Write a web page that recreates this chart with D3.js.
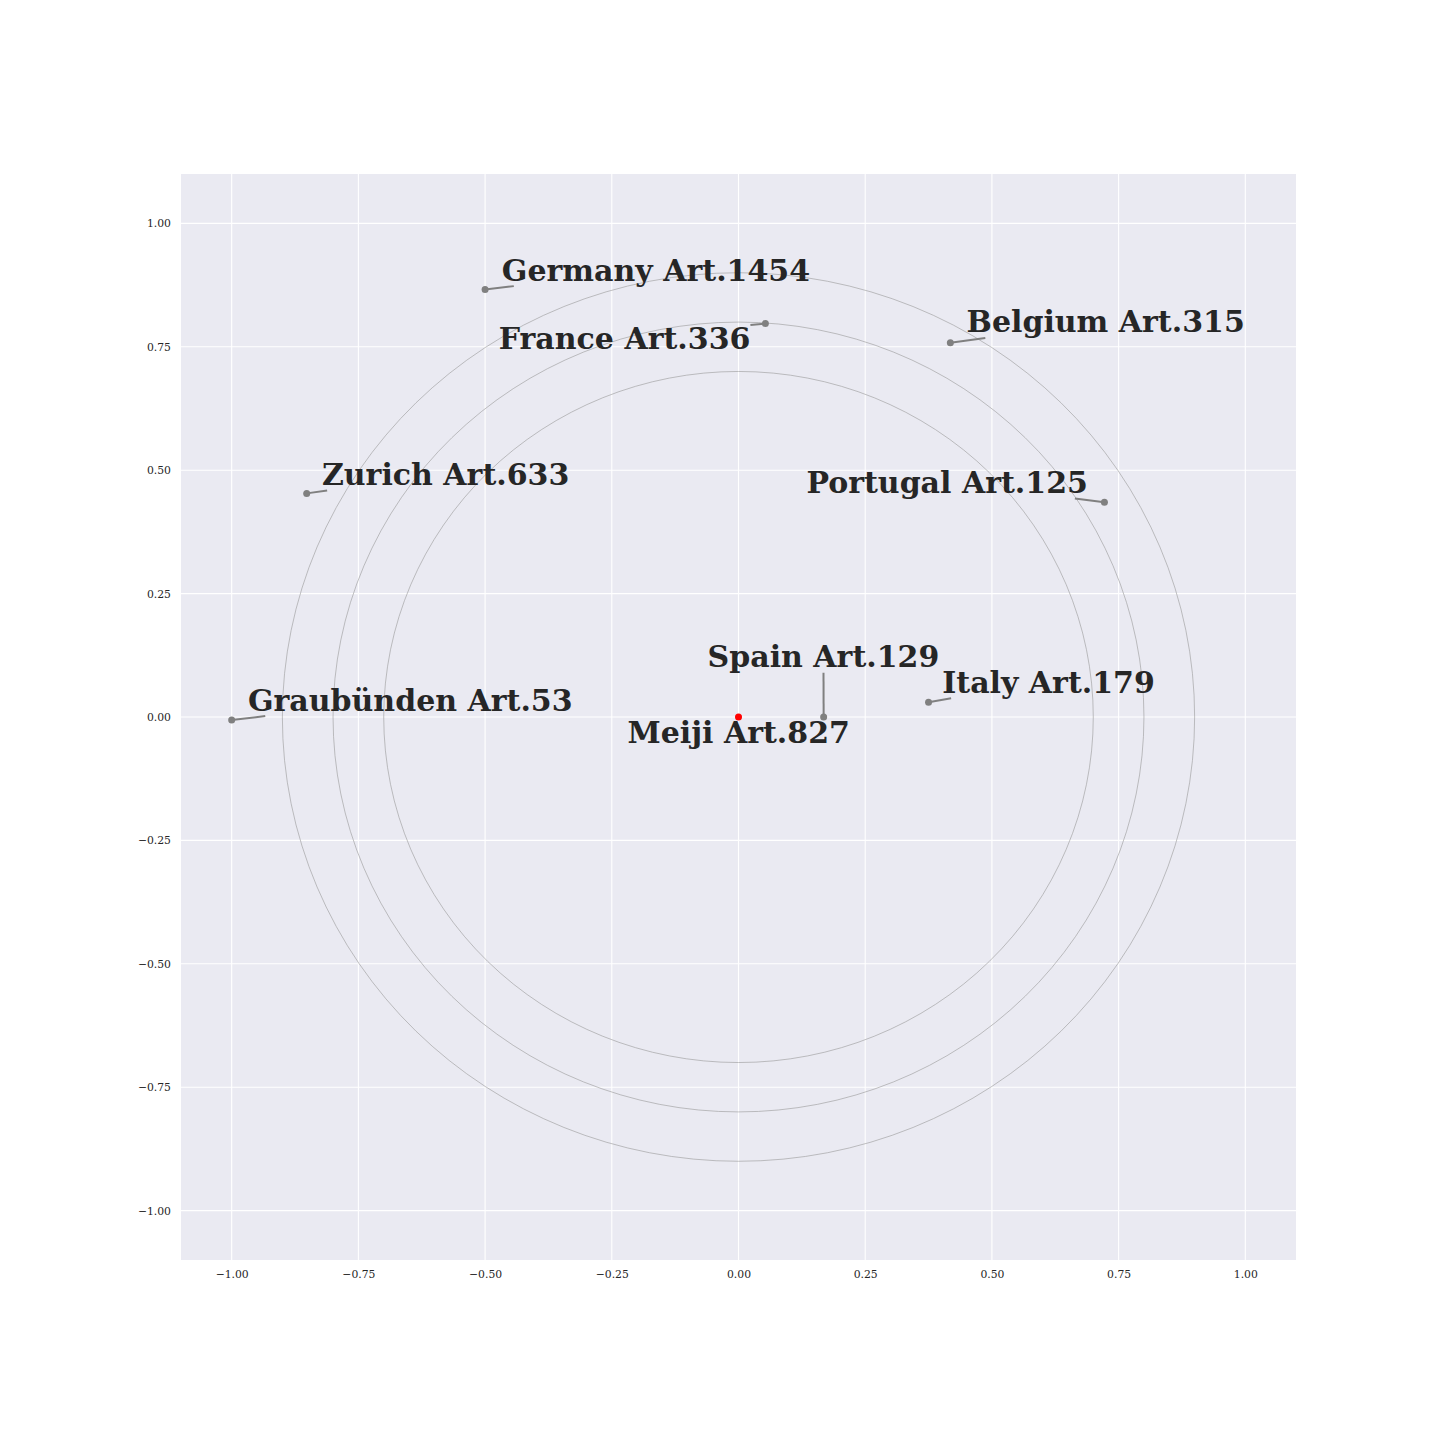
<!DOCTYPE html>
<html><head><meta charset="utf-8">
<script src="https://cdn.jsdelivr.net/npm/d3@7"></script>
<style>body{margin:0;background:#fff}svg{display:block}</style>
</head><body>
<script>
const names = ["Germany Art.1454","France Art.336","Belgium Art.315","Zurich Art.633","Portugal Art.125","Graubünden Art.53","Spain Art.129","Italy Art.179"];
const px = [-0.5, 0.053, 0.418, -0.852, 0.722, -1.0, 0.168, 0.375];
const py = [0.866, 0.797, 0.758, 0.453, 0.435, -0.006, 0.0, 0.030];
// label anchor (left, baseline) in data units
const lx = [-0.467, -0.473, 0.450, -0.822, 0.134, -0.968, -0.061, 0.402];
const ly = [0.884, 0.746, 0.779, 0.470, 0.454, 0.013, 0.101, 0.049];
const centerName = "Meiji Art.827";
const centerLabel = [-0.219, -0.053];
const radii = [0.7, 0.8, 0.9];
const ticks = [-1.0, -0.75, -0.5, -0.25, 0, 0.25, 0.5, 0.75, 1.0];

const W = 1440, H = 1440;
const L = 181, R = 1296, T = 174, B = 1260;
const svg = d3.select("body").append("svg").attr("width", W).attr("height", H);
const x = d3.scaleLinear().domain([-1.1, 1.1]).range([L, R]);
const y = d3.scaleLinear().domain([-1.1, 1.1]).range([B, T]);

svg.append("rect").attr("x", L).attr("y", T).attr("width", R - L).attr("height", B - T).attr("fill", "#EAEAF2");
const fmt = d => d3.format(".2f")(d).replace("-", "\u2212");

const g = svg.append("g");
g.selectAll(".gx").data(ticks).join("line").attr("x1", d => x(d)).attr("x2", d => x(d))
  .attr("y1", T).attr("y2", B).attr("stroke", "#fff").attr("stroke-width", 1.1);
g.selectAll(".gy").data(ticks).join("line").attr("y1", d => y(d)).attr("y2", d => y(d))
  .attr("x1", L).attr("x2", R).attr("stroke", "#fff").attr("stroke-width", 1.1);

const xAxis = d3.axisBottom(x).tickValues(ticks).tickFormat(fmt).tickSize(0).tickPadding(10);
const yAxis = d3.axisLeft(y).tickValues(ticks).tickFormat(fmt).tickSize(0).tickPadding(10);
const ax = svg.append("g").attr("transform", `translate(0,${B})`).call(xAxis);
const ay = svg.append("g").attr("transform", `translate(${L},0)`).call(yAxis);
[ax, ay].forEach(a => {
  a.select(".domain").remove();
  a.selectAll("text").attr("font-family", "DejaVu Serif").attr("font-size", "10.8px").attr("fill", "#262626");
});

// circles
svg.selectAll(".ring").data(radii).join("ellipse")
  .attr("cx", x(0)).attr("cy", y(0))
  .attr("rx", d => x(d) - x(0)).attr("ry", d => y(0) - y(d))
  .attr("fill", "none").attr("stroke", "#999").attr("stroke-width", 0.6);

// labels
const labels = svg.append("g");
const items = names.map((n, i) => ({n, px: px[i], py: py[i], lx: lx[i], ly: ly[i]}));
const lineG = svg.append("g");
items.forEach(d => {
  const t = labels.append("text").attr("x", x(d.lx)).attr("y", y(d.ly))
    .attr("font-family", "DejaVu Serif").attr("font-weight", "bold").attr("font-size", "30px")
    .attr("fill", "#262626").text(d.n);
  const b0 = t.node().getBBox();
  const bb = {x: b0.x, y: b0.y, width: b0.width, height: b0.height - 1.5};
  const cx = bb.x + bb.width / 2, cy = bb.y + bb.height / 2;
  const p0 = [x(d.px), y(d.py)];
  const dx = cx - p0[0], dy = cy - p0[1];
  let tmin = 1;
  const cands = [];
  if (dx !== 0) { cands.push((bb.x - p0[0]) / dx, (bb.x + bb.width - p0[0]) / dx); }
  if (dy !== 0) { cands.push((bb.y - p0[1]) / dy, (bb.y + bb.height - p0[1]) / dy); }
  cands.forEach(tt => {
    if (tt > 0 && tt < tmin) {
      const qx = p0[0] + dx * tt, qy = p0[1] + dy * tt;
      if (qx >= bb.x - 0.01 && qx <= bb.x + bb.width + 0.01 && qy >= bb.y - 0.01 && qy <= bb.y + bb.height + 0.01) tmin = tt;
    }
  });
  lineG.append("line").attr("x1", p0[0]).attr("y1", p0[1])
    .attr("x2", p0[0] + dx * tmin).attr("y2", p0[1] + dy * tmin)
    .attr("stroke", "#808080").attr("stroke-width", 2);
});
labels.append("text").attr("x", x(centerLabel[0])).attr("y", y(centerLabel[1]))
  .attr("font-family", "DejaVu Serif").attr("font-weight", "bold").attr("font-size", "30px")
  .attr("fill", "#262626").text(centerName);

svg.append("g").selectAll("circle").data(items).join("circle")
  .attr("cx", d => x(d.px)).attr("cy", d => y(d.py)).attr("r", 3.5).attr("fill", "#808080");
svg.append("circle").attr("cx", x(0)).attr("cy", y(0)).attr("r", 3.5).attr("fill", "red");
</script>
</body></html>
